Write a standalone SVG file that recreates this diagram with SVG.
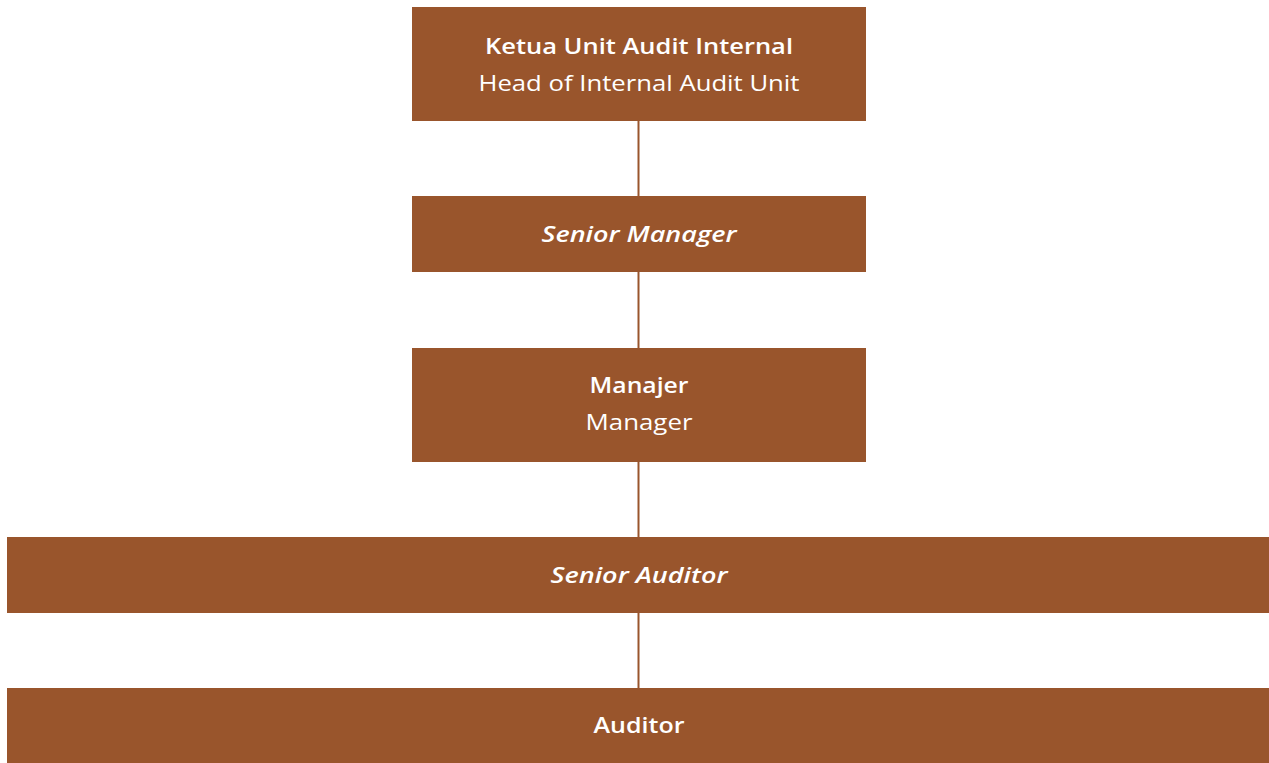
<svg xmlns="http://www.w3.org/2000/svg" width="1269" height="763" viewBox="0 0 1269 763">
<style>
.box{fill:#99552C}
.t{font-family:"Open Sans","Noto Sans",sans-serif;fill:#fff;text-anchor:middle;font-size:21px}
.b{font-weight:600}
.r{font-weight:400}
.i{font-style:italic;font-weight:600}
.ln{stroke:#99552C;stroke-width:2;fill:none}
</style>
<rect width="1269" height="763" fill="#fff"/>
<g id="connectors">
<line class="ln" x1="638.5" y1="121" x2="638.5" y2="196"/>
<line class="ln" x1="638.5" y1="272" x2="638.5" y2="348"/>
<line class="ln" x1="638.5" y1="462" x2="638.5" y2="537"/>
<line class="ln" x1="638.5" y1="613" x2="638.5" y2="688"/>
</g>
<g id="node-ketua">
<rect class="box" x="412" y="7" width="454" height="114"/>
<text class="t b" x="639" y="53.5" textLength="308" lengthAdjust="spacingAndGlyphs">Ketua Unit Audit Internal</text>
<text class="t r" x="639" y="90.5" textLength="321" lengthAdjust="spacingAndGlyphs">Head of Internal Audit Unit</text>
</g>
<g id="node-senior-manager">
<rect class="box" x="412" y="196" width="454" height="76"/>
<text class="t i" x="639" y="242" textLength="195" lengthAdjust="spacingAndGlyphs">Senior Manager</text>
</g>
<g id="node-manajer">
<rect class="box" x="412" y="348" width="454" height="114"/>
<text class="t b" x="639" y="393" textLength="99" lengthAdjust="spacingAndGlyphs">Manajer</text>
<text class="t r" x="639" y="430" textLength="107" lengthAdjust="spacingAndGlyphs">Manager</text>
</g>
<g id="node-senior-auditor">
<rect class="box" x="7" y="537" width="1262" height="76"/>
<text class="t i" x="639" y="582.5" textLength="177" lengthAdjust="spacingAndGlyphs">Senior Auditor</text>
</g>
<g id="node-auditor">
<rect class="box" x="7" y="688" width="1262" height="75"/>
<text class="t b" x="639" y="733" textLength="91" lengthAdjust="spacingAndGlyphs">Auditor</text>
</g>
</svg>
